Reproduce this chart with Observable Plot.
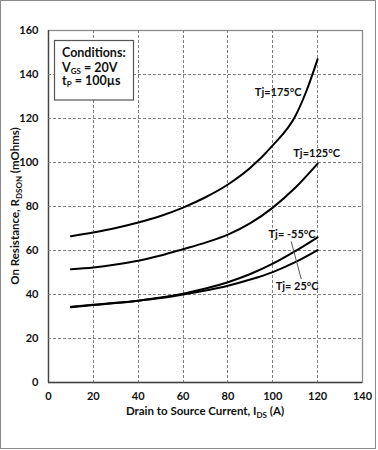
<!DOCTYPE html>
<html>
<head>
<meta charset="utf-8">
<script src="https://cdn.jsdelivr.net/npm/d3@7"></script>
<script src="https://cdn.jsdelivr.net/npm/@observablehq/plot@0.6"></script>
<style>
  html, body { margin: 0; padding: 0; background: #fff; }
  svg { display: block; }
</style>
</head>
<body>
<div id="wrap"></div>
<script>
// Drain-to-source current (A)
const currents = [10, 20, 30, 40, 50, 60, 70, 80, 90, 100, 110, 120];
const currents175 = [10, 20, 30, 40, 50, 60, 70, 80, 90, 100, 110, 115, 120];
// On resistance (mOhms) per junction temperature
const r175 = [66.5, 68.2, 70.2, 72.7, 75.7, 79.5, 84.2, 90.0, 97.6, 107.8, 121.0, 132.5, 147.0];
const r125 = [51.5, 52.3, 53.6, 55.3, 57.7, 60.6, 63.6, 67.2, 72.4, 79.5, 88.5, 99.5];
const rM55 = [34.2, 35.2, 36.1, 37.2, 38.6, 40.4, 42.7, 45.6, 49.3, 54.0, 59.7, 66.0];
const r25  = [34.4, 35.3, 36.2, 37.2, 38.4, 40.0, 41.8, 44.0, 46.8, 50.2, 54.7, 60.2];
const seriesNames = ["Tj=175°C", "Tj=125°C", "Tj= -55°C", "Tj= 25°C"];
const seriesX = [currents175, currents, currents, currents];
const seriesValues = [r175, r125, rM55, r25];
const xTicks = [0, 20, 40, 60, 80, 100, 120, 140];
const yTicks = [0, 20, 40, 60, 80, 100, 120, 140, 160];
const xGrid = [20, 40, 60, 80, 100, 120];
const yGrid = [20, 40, 60, 80, 100, 120, 140];
// leader line between the -55°C and 25°C labels (data units)
const leader = [{x1: 108.2, y1: 64.1, x2: 112.7, y2: 47.0}];

const data = seriesNames.flatMap((name, i) =>
  seriesX[i].map((c, j) => ({series: name, x: c, y: seriesValues[i][j]})));
const endPoint = name => data.filter(d => d.series === name).slice(-1);
const pointAt = (name, x) => data.filter(d => d.series === name && d.x === x);

const font = "Lato, 'Open Sans', sans-serif";
const labelStyle = {fontSize: 11, fontWeight: "bold", fill: "#111"};

const chart = Plot.plot({
  width: 378,
  height: 450,
  marginLeft: 48,
  marginRight: 16,
  marginTop: 30,
  marginBottom: 68,
  style: {fontFamily: font, fontSize: "11px", fontWeight: "bold", color: "#111", background: "transparent"},
  x: {domain: [0, 140]},
  y: {domain: [0, 160]},
  marks: [
    Plot.frame({stroke: "#8c8c8c", strokeWidth: 1.3}),
    Plot.ruleX([0], {stroke: "#444", strokeWidth: 1.3}),
    Plot.ruleY([0], {stroke: "#444", strokeWidth: 1.3}),
    Plot.axisX(xTicks, {tickSize: 0, tickPadding: 10, label: null, fontSize: 11}),
    Plot.axisY(yTicks, {tickSize: 0, tickPadding: 10, label: null, fontSize: 11}),
    Plot.line(data, {x: "x", y: "y", z: "series", curve: "monotone-x", stroke: "#000", strokeWidth: 2}),
    Plot.text(pointAt("Tj=175°C", 110), {x: "x", y: "y", text: "series", textAnchor: "middle", dx: -17, dy: -24, ...labelStyle}),
    Plot.text(endPoint("Tj=125°C"), {x: "x", y: "y", text: "series", textAnchor: "middle", dx: -1, dy: -10, ...labelStyle}),
    Plot.text(endPoint("Tj= -55°C"), {x: "x", y: "y", text: "series", textAnchor: "end", dx: -2, dy: -3, ...labelStyle}),
    Plot.text(endPoint("Tj= 25°C"), {x: "x", y: "y", text: "series", textAnchor: "end", dx: 1, dy: 36, ...labelStyle}),
    Plot.link(leader, {x1: "x1", y1: "y1", x2: "x2", y2: "y2", stroke: "#555", strokeWidth: 1})
  ]
});

const svg = d3.select(chart);
const xs = chart.scale("x"), ys = chart.scale("y");
const [yBottom, yTop] = ys.range;
const [xLeft, xRight] = xs.range;

// dashed grid, positioned with Plot's own scales, placed beneath the curves
const grid = svg.insert("g", 'g[aria-label="line"]')
  .attr("stroke", "#808080").attr("stroke-width", 1).attr("stroke-dasharray", "3 2").attr("fill", "none");
xGrid.forEach(v => {
  const px = Math.round(xs.apply(v)) + 0.5;
  grid.append("line").attr("x1", px).attr("x2", px).attr("y1", yTop).attr("y2", yBottom);
});
yGrid.forEach(v => {
  const py = Math.round(ys.apply(v)) + 0.5;
  grid.append("line").attr("x1", xLeft).attr("x2", xRight).attr("y1", py).attr("y2", py);
});

// outer border of the figure
svg.append("rect").attr("x", 0.5).attr("y", 0.5).attr("width", 375).attr("height", 448)
  .attr("fill", "none").attr("stroke", "#8a8a8a").attr("stroke-width", 1);

// Axis titles with subscripts
const xl = svg.append("text")
  .attr("x", 205).attr("y", 415)
  .attr("text-anchor", "middle")
  .attr("font-family", font).attr("font-weight", "bold").attr("font-size", 11.5).attr("fill", "#111");
xl.append("tspan").text("Drain to Source Current, I");
xl.append("tspan").attr("font-size", 8).attr("dy", 2.5).text("DS");
xl.append("tspan").attr("dy", -2.5).text(" (A)");

const yl = svg.append("text")
  .attr("transform", "translate(19,206) rotate(-90)")
  .attr("text-anchor", "middle")
  .attr("font-family", font).attr("font-weight", "bold").attr("font-size", 11.5).attr("fill", "#111");
yl.append("tspan").text("On Resistance, R");
yl.append("tspan").attr("font-size", 8).attr("dy", 2.5).text("DSON");
yl.append("tspan").attr("dy", -2.5).text(" (mOhms)");

// Conditions box
const box = svg.append("g").attr("font-family", font).attr("font-weight", "bold").attr("fill", "#111")
  .attr("text-anchor", "start");
box.append("rect").attr("x", 54.5).attr("y", 40.5).attr("width", 79).attr("height", 59.5)
  .attr("fill", "white").attr("stroke", "#555").attr("stroke-width", 1.2);
box.append("text").attr("x", 62).attr("y", 56.5).attr("font-size", 12.5).text("Conditions:");
const l2 = box.append("text").attr("x", 62).attr("y", 71.5).attr("font-size", 12.5);
l2.append("tspan").text("V");
l2.append("tspan").attr("font-size", 8).attr("dy", 2.5).text("GS");
l2.append("tspan").attr("dy", -2.5).text(" = 20V");
const l3 = box.append("text").attr("x", 62).attr("y", 84.5).attr("font-size", 12.5);
l3.append("tspan").text("t");
l3.append("tspan").attr("font-size", 8).attr("dy", 2.5).text("P");
l3.append("tspan").attr("dy", -2.5).text(" = 100µs");

document.getElementById("wrap").appendChild(chart);
</script>
</body>
</html>
